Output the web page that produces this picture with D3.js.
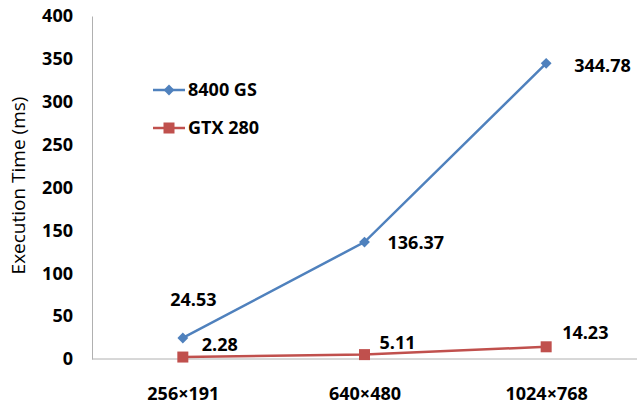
<!DOCTYPE html>
<html>
<head>
<meta charset="utf-8">
<script src="https://cdn.jsdelivr.net/npm/d3@7"></script>
<style>
  body { margin: 0; background: #fff; }
  text { font-family: "Open Sans", "Noto Sans", sans-serif; fill: #000; }
</style>
</head>
<body>
<div id="chart"></div>
<script>
// chart data
var categories = ["256\u00d7191", "640\u00d7480", "1024\u00d7768"];
var gs8400 = [24.53, 136.37, 344.78];
var gtx280 = [2.28, 5.11, 14.23];
var yTicks = [0, 50, 100, 150, 200, 250, 300, 350, 400];

var width = 637, height = 406;
var margin = {top: 16, right: 0, bottom: 47, left: 92};

var svg = d3.select("#chart").append("svg")
    .attr("width", width)
    .attr("height", height);

var x = d3.scalePoint().domain(categories)
    .range([margin.left, width - margin.right]).padding(0.5);
var y = d3.scaleLinear().domain([0, 400])
    .range([height - margin.bottom, margin.top]);

// y axis
var yAxis = svg.append("g")
    .attr("transform", "translate(" + margin.left + ",0)")
    .call(d3.axisLeft(y).tickValues(yTicks).tickSize(0).tickPadding(19));
yAxis.select(".domain").attr("stroke", "#b0b0b0");
yAxis.selectAll("text").style("font-size", "18px").style("font-weight", "bold");

// x axis
var xAxis = svg.append("g")
    .attr("transform", "translate(0," + y(0) + ")")
    .call(d3.axisBottom(x).tickSize(0).tickPadding(28.5));
xAxis.select(".domain").attr("stroke", "#b0b0b0").attr("d", "M" + margin.left + ",0H" + width);
xAxis.selectAll("text").style("font-size", "18px").style("font-weight", "bold");

// y axis title
svg.append("text")
    .attr("transform", "translate(18," + (y(200) - 2) + ") rotate(-90)")
    .attr("text-anchor", "middle")
    .attr("dy", "0.35em")
    .style("font-size", "19px")
    .text("Execution Time (ms)");

var line = d3.line()
    .x(function (d, i) { return x(categories[i]); })
    .y(function (d) { return y(d); });

// 8400 GS
svg.append("path").datum(gs8400)
    .attr("fill", "none").attr("stroke", "#4f81bd").attr("stroke-width", 2.5)
    .attr("d", line);
svg.selectAll(".gs").data(gs8400).enter().append("path")
    .attr("class", "gs")
    .attr("transform", function (d, i) { return "translate(" + x(categories[i]) + "," + y(d) + ")"; })
    .attr("d", d3.symbol().type(d3.symbolDiamond2).size(75))
    .attr("fill", "#4f81bd");

// GTX 280
svg.append("path").datum(gtx280)
    .attr("fill", "none").attr("stroke", "#c0504d").attr("stroke-width", 2.5)
    .attr("d", line);
svg.selectAll(".gtx").data(gtx280).enter().append("rect")
    .attr("class", "gtx")
    .attr("x", function (d, i) { return x(categories[i]) - 5.5; })
    .attr("y", function (d) { return y(d) - 5.5; })
    .attr("width", 11).attr("height", 11)
    .attr("fill", "#c0504d");

// data labels
var gsOffsets = [[10.5, -38], [23, 1], [28, 2]];
var gtxOffsets = [[19, -12], [15, -12], [16, -14]];
svg.selectAll(".gsLabel").data(gs8400).enter().append("text")
    .attr("x", function (d, i) { return x(categories[i]) + gsOffsets[i][0]; })
    .attr("y", function (d, i) { return y(d) + gsOffsets[i][1]; })
    .attr("text-anchor", function (d, i) { return i == 0 ? "middle" : "start"; })
    .attr("dy", "0.35em")
    .style("font-size", "18px").style("font-weight", "bold")
    .text(function (d) { return d.toFixed(2); });
svg.selectAll(".gtxLabel").data(gtx280).enter().append("text")
    .attr("x", function (d, i) { return x(categories[i]) + gtxOffsets[i][0]; })
    .attr("y", function (d, i) { return y(d) + gtxOffsets[i][1]; })
    .attr("dy", "0.35em")
    .style("font-size", "18px").style("font-weight", "bold")
    .text(function (d) { return d.toFixed(2); });

// legend
var legend = [
    {name: "8400 GS", color: "#4f81bd", shape: "diamond", y: 90},
    {name: "GTX 280", color: "#c0504d", shape: "square", y: 128}
];
legend.forEach(function (l) {
    svg.append("line")
        .attr("x1", 153).attr("x2", 185).attr("y1", l.y).attr("y2", l.y)
        .attr("stroke", l.color).attr("stroke-width", 2.5);
    if (l.shape == "diamond") {
        svg.append("path")
            .attr("transform", "translate(169," + l.y + ")")
            .attr("d", d3.symbol().type(d3.symbolDiamond2).size(75))
            .attr("fill", l.color);
    } else {
        svg.append("rect")
            .attr("x", 163.5).attr("y", l.y - 5.5).attr("width", 11).attr("height", 11)
            .attr("fill", l.color);
    }
    svg.append("text")
        .attr("x", 188).attr("y", l.y).attr("dy", "0.35em")
        .style("font-size", "18px").style("font-weight", "bold")
        .text(l.name);
});
</script>
</body>
</html>
